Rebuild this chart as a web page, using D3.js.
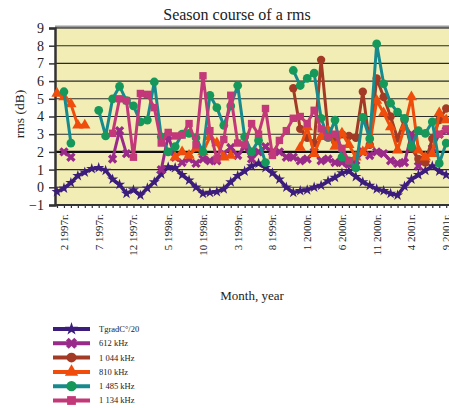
<!DOCTYPE html>
<html>
  <head>
    <meta charset="utf-8">
    <title>Season course of a rms</title>
    <script type="text/javascript" src="https://d3js.org/d3.v7.min.js"></script>
    <style>
      body { margin: 0; background: #fff; }
      text { font-family: "Liberation Serif", "DejaVu Serif", serif; fill: #222; }
    </style>
  </head>

  <body>
    <script>

    // months, 1 1997 .. 12 2001
    var months = [
      "1 1997г.","2 1997г.","3 1997г.","4 1997г.","5 1997г.","6 1997г.","7 1997г.","8 1997г.","9 1997г.","10 1997г.","11 1997г.","12 1997г.",
      "1 1998г.","2 1998г.","3 1998г.","4 1998г.","5 1998г.","6 1998г.","7 1998г.","8 1998г.","9 1998г.","10 1998г.","11 1998г.","12 1998г.",
      "1 1999г.","2 1999г.","3 1999г.","4 1999г.","5 1999г.","6 1999г.","7 1999г.","8 1999г.","9 1999г.","10 1999г.","11 1999г.","12 1999г.",
      "1 2000г.","2 2000г.","3 2000г.","4 2000г.","5 2000г.","6 2000г.","7 2000г.","8 2000г.","9 2000г.","10 2000г.","11 2000г.","12 2000г.",
      "1 2001г.","2 2001г.","3 2001г.","4 2001г.","5 2001г.","6 2001г.","7 2001г.","8 2001г.","9 2001г.","10 2001г.","11 2001г.","12 2001г."
    ];
    var tickLabels = ["2 1997г.","7 1997г.","12 1997г.","5 1998г.","10 1998г.","3 1999г.",
                      "8 1999г.","1 2000г.","6 2000г.","11 2000г.","4 2001г.","9 2001г."];
    var yTicks = [-1, 0, 1, 2, 3, 4, 5, 6, 7, 8, 9];

    var tgrad = [-0.25,-0.05,0.25,0.65,0.85,1.05,1.1,0.95,0.45,0.15,-0.35,-0.15,-0.45,-0.05,0.3,0.75,
                 1.15,1.1,0.7,0.4,0.0,-0.35,-0.3,-0.25,-0.1,0.3,0.65,0.9,1.2,1.35,1.1,0.8,0.45,0.0,
                 -0.3,-0.2,-0.15,0.0,0.1,0.35,0.55,0.8,0.9,0.6,0.3,0.1,-0.1,-0.2,-0.35,-0.45,0.05,
                 0.45,0.7,0.95,1.2,0.9,0.7];
    var khz612 = [null,2.0,1.7,null,null,null,null,null,1.6,3.2,1.9,null,null,null,null,1.0,
                  2.9,1.7,1.4,1.6,1.35,1.6,1.5,1.5,1.9,2.25,1.8,2.3,1.6,2.0,2.3,2.0,2.0,1.7,
                  1.7,1.5,1.6,2.0,1.5,1.6,1.4,1.4,1.3,1.5,2.0,1.8,2.0,1.9,1.5,1.35,1.4,
                  3.0,1.2,1.6,2.2,3.0,3.2];
    var khz1044 = [null,null,null,null,null,null,null,null,null,null,null,null,null,null,null,null,
                   null,null,null,null,null,null,null,null,null,null,null,null,null,null,null,null,null,null,
                   5.6,3.3,2.8,2.5,7.2,3.2,2.6,3.0,2.9,2.8,5.4,2.4,6.15,5.1,4.0,2.75,3.8,
                   2.2,1.6,1.4,2.75,3.8,4.45];
    var khz810 = [5.3,5.1,4.7,3.5,3.5,null,null,null,null,null,null,null,null,null,null,null,
                  null,1.7,2.0,1.8,2.2,2.0,2.85,2.5,1.7,1.8,null,null,null,null,null,null,null,null,
                  null,2.25,3.4,1.9,2.85,3.2,2.3,3.05,2.4,1.7,2.0,2.4,4.9,4.2,3.4,2.1,3.4,
                  5.1,2.1,1.7,1.9,4.2,3.8];
    var khz1485 = [null,5.4,2.5,null,null,null,4.35,2.9,5.0,5.7,4.9,4.6,3.7,3.8,5.95,2.85,
                   2.0,2.3,3.0,3.05,2.8,2.0,5.2,4.5,3.5,4.6,5.75,2.85,2.0,2.65,1.4,null,null,null,
                   6.6,5.75,6.15,6.45,3.9,2.8,3.8,1.7,1.5,1.1,3.95,2.75,8.1,5.85,4.75,4.25,3.9,
                   2.3,3.2,3.05,3.7,1.35,2.5];
    var khz1134 = [null,null,null,null,null,null,null,null,3.05,5.0,4.9,1.7,5.3,5.25,4.5,2.5,
                   3.1,2.9,2.95,3.6,2.4,6.3,3.2,1.6,2.7,5.2,2.5,2.4,3.6,3.0,4.45,1.8,2.65,3.2,
                   3.9,4.0,3.6,4.35,3.3,2.85,3.0,2.2,1.5,null,null,null,null,null,null,null,null,
                   null,null,null,null,3.0,3.3];

    var seriesNames = ["TgradC°/20", "612 kHz", "1 044 kHz", "810 kHz", "1 485 kHz", "1 134 kHz"];
    var seriesValues = [tgrad, khz612, khz1044, khz810, khz1485, khz1134];
    var lineColors = ["#3c1d7c", "#9a2a8a", "#a33a26", "#f04c0c", "#178a8e", "#c23878"];
    var markColors = ["#3c1d7c", "#9a2a8a", "#a33a26", "#f04c0c", "#15985a", "#c23878"];
    var symbols = [d3.symbolStar, d3.symbolCross, d3.symbolCircle, d3.symbolTriangle, d3.symbolCircle, d3.symbolSquare];
    var symSizes = [38, 55, 55, 55, 60, 55];
    var symRotate = [0, 45, 0, 0, 0, 0];

    var width = 449, height = 408;
    var plotLeft = 55, plotTop = 28, plotBottom = 205;
    var step = 6.95;

    var x = d3.scalePoint()
              .domain(months)
              .range([plotLeft + 2, plotLeft + 2 + step * (months.length - 1)]);

    var y = d3.scaleLinear()
              .domain([-1, 9])
              .range([plotBottom, plotTop]);

    var svg = d3.select("body")
                .append("svg")
                .attr("width", width)
                .attr("height", height);

    // plot background
    svg.append("rect")
       .attr("x", plotLeft)
       .attr("y", plotTop)
       .attr("width", 480 - plotLeft)
       .attr("height", plotBottom - plotTop)
       .attr("fill", "#f1edb4");

    svg.append("line")
       .attr("x1", plotLeft).attr("x2", width)
       .attr("y1", plotTop - 1).attr("y2", plotTop - 1)
       .attr("stroke", "#9b9b9b").attr("stroke-width", 3);

    // gridlines
    svg.selectAll("line.grid")
       .data(yTicks)
       .enter()
         .append("line")
         .attr("class", "grid")
         .attr("x1", plotLeft).attr("x2", width)
         .attr("y1", function(d) { return y(d); })
         .attr("y2", function(d) { return y(d); })
         .attr("stroke", function(d) { return d == 2 ? "#111" : "#2a2a2a"; })
         .attr("stroke-width", function(d) { return d == 2 ? 2.2 : 1.1; });

    // y axis
    var yAxis = d3.axisLeft(y).tickValues(yTicks).tickSize(6).tickPadding(5)
                  .tickFormat(function(d) { return d < 0 ? "\u2212" + Math.abs(d) : d; });
    var gy = svg.append("g")
                .attr("transform", "translate(" + plotLeft + ",0)")
                .call(yAxis);
    gy.select(".domain").attr("stroke", "#333").attr("stroke-width", 2.5);
    gy.selectAll(".tick line").attr("stroke", "#333").attr("stroke-width", 1.5);
    gy.selectAll("text").style("font-size", "14px").style("font-family", "Liberation Serif").attr("fill", "#222");

    // x axis
    var xAxis = d3.axisBottom(x).tickSize(3).tickFormat("");
    var gx = svg.append("g")
                .attr("transform", "translate(0," + plotBottom + ")")
                .call(xAxis);
    gx.select(".domain").attr("stroke", "#333").attr("stroke-width", 2).attr("d", "M" + plotLeft + ",0H480");
    gx.selectAll(".tick line").attr("stroke", "#333").attr("stroke-width", 1.2);

    svg.selectAll("text.xlab")
       .data(tickLabels)
       .enter()
         .append("text")
         .attr("class", "xlab")
         .attr("transform", function(d) { return "translate(" + x(d) + "," + (plotBottom + 9) + ") rotate(-90)"; })
         .attr("dy", "0.35em")
         .attr("text-anchor", "end")
         .style("font-size", "11px")
         .text(function(d) { return d; });

    // series
    var line = d3.line()
                 .defined(function(d) { return d.v != null; })
                 .x(function(d) { return x(d.m); })
                 .y(function(d) { return y(d.v); });

    seriesValues.forEach(function(vals, i) {
      var pts = vals.map(function(v, j) { return { m: months[j], v: v }; });
      var g = svg.append("g");
      g.append("path")
       .datum(pts)
       .attr("d", line)
       .attr("fill", "none")
       .attr("stroke", lineColors[i])
       .attr("stroke-width", i == 0 ? 3.5 : 3)
       .attr("stroke-linejoin", "round");
      g.selectAll("path.mk")
       .data(pts.filter(function(d) { return d.v != null; }))
       .enter()
         .append("path")
         .attr("class", "mk")
         .attr("d", d3.symbol().type(symbols[i]).size(symSizes[i]))
         .attr("transform", function(d) { return "translate(" + x(d.m) + "," + y(d.v) + ") rotate(" + symRotate[i] + ")"; })
         .attr("fill", markColors[i]);
    });

    // titles
    svg.append("text")
       .attr("x", 237).attr("y", 20)
       .attr("text-anchor", "middle")
       .style("font-size", "16px")
       .text("Season course of a rms");

    svg.append("text")
       .attr("transform", "translate(19,114) rotate(-90)")
       .attr("dy", "0.35em")
       .attr("text-anchor", "middle")
       .style("font-size", "13.5px")
       .text("rms (dB)");

    svg.append("text")
       .attr("x", 252).attr("y", 300)
       .attr("text-anchor", "middle")
       .style("font-size", "13px")
       .text("Month, year");

    // legend
    var legend = svg.selectAll("g.legend")
                    .data(seriesNames)
                    .enter()
                      .append("g")
                      .attr("class", "legend")
                      .attr("transform", function(d, i) { return "translate(53," + (329 + i * 14.3) + ")"; });
    legend.append("line")
          .attr("x1", 0).attr("x2", 37)
          .attr("stroke", function(d, i) { return lineColors[i]; })
          .attr("stroke-width", 4);
    legend.append("path")
          .attr("d", function(d, i) { return d3.symbol().type(symbols[i]).size(symSizes[i] * 1.4)(); })
          .attr("transform", function(d, i) { return "translate(18.5,0) rotate(" + symRotate[i] + ")"; })
          .attr("fill", function(d, i) { return markColors[i]; });
    legend.append("text")
          .attr("x", 46).attr("dy", "0.35em")
          .style("font-size", "8.5px")
          .text(function(d) { return d; });

  </script>
  </body>
</html>
